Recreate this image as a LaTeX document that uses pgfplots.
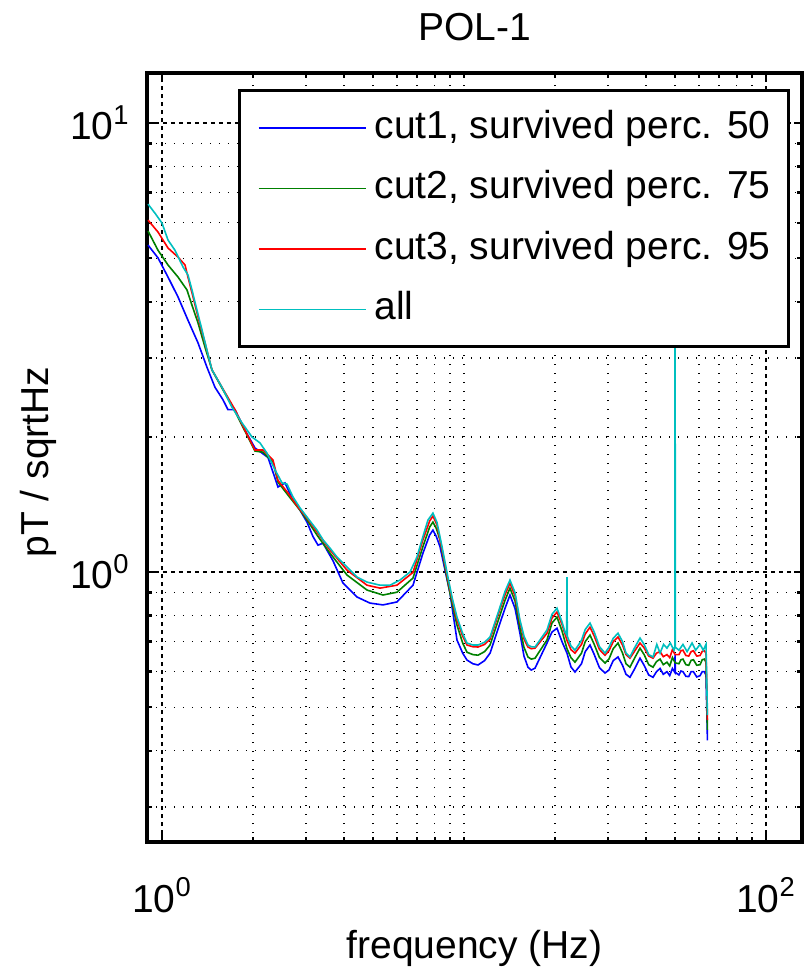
\documentclass[border=0pt]{standalone}
\usepackage{fontspec}
\setmainfont{Liberation Sans}
\usepackage{pgfplots}
\usepackage{pgfplotstable}
\pgfplotsset{compat=1.18}
\definecolor{mlblue}{rgb}{0,0,1}
\definecolor{mlgreen}{rgb}{0,0.5,0}
\definecolor{mlred}{rgb}{1,0,0}
\definecolor{mlcyan}{rgb}{0,0.75,0.75}
\newcommand{\bigfont}{\fontsize{19.5}{23}\selectfont}

% cut1, survived perc. 50
\pgfplotstableread{
f v
0.899 5.35
0.970 5.01
1.047 4.54
1.130 4.10
1.219 3.64
1.316 3.24
1.409 2.86
1.498 2.58
1.592 2.42
1.654 2.30
1.745 2.30
1.883 2.07
2.032 1.89
2.244 1.80
2.422 1.547
2.555 1.58
2.695 1.461
2.864 1.374
3.021 1.292
3.162 1.20
3.286 1.148
3.413 1.160
3.683 1.06
3.976 0.945
4.423 0.880
4.883 0.853
5.393 0.845
5.999 0.858
6.780 0.935
7.314 1.102
7.700 1.21
7.895 1.24
8.100 1.20
8.327 1.14
8.986 0.898
9.48 0.706
9.90 0.660
10.23 0.637
10.70 0.625
11.13 0.621
11.70 0.635
12.20 0.660
13.16 0.770
13.67 0.830
14.20 0.889
14.76 0.830
15.32 0.731
15.80 0.650
16.29 0.614
16.70 0.605
17.19 0.611
18.83 0.695
19.56 0.735
20.32 0.750
21.11 0.700
21.93 0.660
22.60 0.615
23.31 0.599
24.50 0.625
25.20 0.665
26.14 0.688
27.00 0.655
28.10 0.612
29.31 0.596
30.20 0.605
31.20 0.635
32.36 0.647
33.50 0.620
34.40 0.592
35.45 0.583
36.80 0.610
38.27 0.643
39.50 0.620
40.90 0.590
42.26 0.583
43.40 0.600
44.60 0.610
45.70 0.592
47.00 0.600
48.00 0.588
49.00 0.610
49.90 0.598
50.00 0.653
50.10 0.598
51.50 0.590
52.30 0.602
53.10 0.600
54.30 0.586
55.50 0.585
56.50 0.600
57.50 0.600
59.00 0.584
60.50 0.588
61.50 0.600
62.50 0.600
63.30 0.590
64.00 0.422
}\cutone

% cut2, survived perc. 75
\pgfplotstableread{
f v
0.899 5.75
0.970 5.21
1.047 4.83
1.130 4.54
1.210 4.25
1.257 3.93
1.316 3.59
1.388 3.17
1.464 2.82
1.580 2.57
1.745 2.28
1.883 2.06
2.032 1.86
2.160 1.85
2.331 1.758
2.422 1.586
2.614 1.484
2.864 1.374
3.021 1.306
3.261 1.209
3.600 1.102
4.099 0.985
4.773 0.912
5.393 0.889
5.999 0.902
6.780 0.970
7.314 1.14
7.700 1.26
7.895 1.292
8.100 1.25
8.327 1.18
8.784 0.970
9.126 0.853
9.48 0.762
9.90 0.695
10.23 0.663
10.70 0.655
11.13 0.653
11.70 0.665
12.20 0.688
13.16 0.802
13.67 0.865
14.20 0.921
14.76 0.862
15.32 0.750
15.80 0.680
16.29 0.647
16.70 0.640
17.19 0.643
18.83 0.706
19.56 0.770
20.32 0.794
21.11 0.740
21.93 0.675
22.60 0.645
23.31 0.630
24.50 0.660
25.20 0.700
26.14 0.724
27.00 0.690
28.10 0.645
29.31 0.627
30.20 0.640
31.20 0.675
32.36 0.695
33.50 0.660
34.40 0.625
35.45 0.614
36.80 0.645
38.27 0.677
39.50 0.655
40.90 0.622
42.26 0.614
43.40 0.632
44.60 0.640
45.70 0.622
47.00 0.630
48.00 0.618
49.00 0.645
50.00 0.628
51.50 0.625
52.30 0.638
53.10 0.640
54.30 0.622
55.50 0.620
56.50 0.636
57.50 0.638
59.00 0.620
60.50 0.622
61.50 0.638
62.50 0.640
63.30 0.630
64.00 0.445
}\cuttwo

% cut3, survived perc. 95
\pgfplotstableread{
f v
0.899 6.08
0.970 5.72
1.047 5.27
1.130 5.03
1.192 4.83
1.219 4.54
1.267 4.10
1.316 3.70
1.388 3.24
1.464 2.82
1.580 2.58
1.745 2.30
1.883 2.07
2.032 1.87
2.160 1.87
2.331 1.776
2.422 1.60
2.614 1.50
2.820 1.396
3.021 1.32
3.261 1.228
3.600 1.12
4.099 1.01
4.773 0.935
5.271 0.921
5.999 0.935
6.780 0.998
7.314 1.18
7.700 1.30
7.895 1.333
8.139 1.273
8.457 1.125
8.784 0.985
9.126 0.871
9.48 0.782
9.90 0.720
10.23 0.688
10.70 0.682
11.13 0.681
11.70 0.690
12.20 0.709
13.16 0.827
13.67 0.890
14.20 0.945
14.76 0.885
15.32 0.774
15.80 0.710
16.29 0.681
16.70 0.675
17.19 0.677
18.83 0.731
19.56 0.790
20.32 0.815
21.11 0.765
21.93 0.705
22.60 0.672
23.31 0.660
24.50 0.690
25.20 0.728
26.14 0.754
27.00 0.720
28.10 0.672
29.31 0.653
30.20 0.668
31.20 0.700
32.36 0.717
33.50 0.688
34.40 0.655
35.45 0.643
36.80 0.668
38.27 0.695
39.50 0.678
40.90 0.650
42.26 0.643
43.40 0.660
44.60 0.665
45.70 0.648
47.00 0.655
48.00 0.645
49.00 0.672
50.00 0.655
51.50 0.655
52.30 0.668
53.10 0.670
54.30 0.652
55.50 0.650
56.50 0.665
57.50 0.668
59.00 0.650
60.50 0.652
61.50 0.666
62.50 0.668
63.30 0.660
64.00 0.468
}\cutthree

% all
\pgfplotstableread{
f v
0.899 6.60
0.948 6.30
1.000 5.99
1.047 5.49
1.104 5.21
1.174 4.78
1.219 4.59
1.257 4.25
1.306 3.83
1.357 3.46
1.409 3.12
1.464 2.82
1.580 2.58
1.705 2.33
1.840 2.15
1.986 2.00
2.111 1.94
2.227 1.84
2.367 1.69
2.497 1.58
2.594 1.57
2.715 1.47
2.864 1.39
3.021 1.326
3.261 1.24
3.413 1.18
3.600 1.131
3.797 1.080
4.099 1.026
4.423 0.975
4.773 0.950
5.271 0.935
5.689 0.935
6.139 0.960
6.625 1.000
6.986 1.080
7.314 1.20
7.599 1.306
7.895 1.353
8.139 1.29
8.457 1.14
8.784 0.998
9.126 0.880
9.48 0.794
9.90 0.730
10.23 0.695
10.70 0.688
11.13 0.688
11.70 0.698
12.20 0.717
13.16 0.836
13.67 0.905
14.20 0.960
14.76 0.900
15.32 0.782
15.80 0.720
16.29 0.688
16.70 0.682
17.19 0.681
18.83 0.743
19.56 0.805
20.32 0.831
21.11 0.775
21.60 0.735
21.88 0.725
21.93 0.975
21.98 0.720
22.60 0.685
23.31 0.670
24.50 0.705
25.20 0.745
26.14 0.770
27.00 0.735
28.10 0.682
29.31 0.660
30.20 0.680
31.20 0.712
32.36 0.731
33.50 0.700
34.40 0.660
35.45 0.647
36.80 0.680
38.27 0.713
39.50 0.690
40.90 0.655
42.26 0.647
43.50 0.690
44.60 0.660
45.80 0.690
47.00 0.677
48.20 0.695
49.60 0.670
49.90 0.680
50.00 5.0
50.10 0.680
51.50 0.670
53.10 0.690
54.80 0.665
56.90 0.695
58.50 0.670
60.50 0.690
62.00 0.670
63.30 0.690
64.00 0.480
}\all

\begin{document}
\begin{tikzpicture}
\path[use as bounding box] (0,0) rectangle (403pt,485.5pt);
\begin{axis}[
  at={(73.5pt,64.5pt)}, anchor=south west,
  width=327.5pt, height=384.5pt, scale only axis,
  xmode=log, ymode=log,
  xmin=0.892, xmax=131.6, ymin=0.2505, ymax=12.93,
  xtick={1,100}, xticklabels={10\textsuperscript{0},10\textsuperscript{2}},
  ytick={1,10}, yticklabels={10\textsuperscript{0},10\textsuperscript{1}},
  minor xtick={2,3,4,5,6,7,8,9,10,20,30,40,50,60,70,80,90},
  minor ytick={0.3,0.4,0.5,0.6,0.7,0.8,0.9,2,3,4,5,6,7,8,9},
  grid=both,
  major grid style={black, line width=0.6pt, dash pattern=on 2pt off 2pt},
  minor grid style={black, line width=0.7pt, dash pattern=on 0.7pt off 3.8pt},
  tick align=inside, xtick pos=both, ytick pos=both,
  major tick length=4pt, minor tick length=2.5pt,
  every tick/.style={black, line width=1.2pt},
  axis line style={line width=1.8pt},
  ticklabel style={font=\bigfont, inner sep=0pt},
  xticklabel style={anchor=base, yshift=-35pt},
  yticklabel style={anchor=east, xshift=-8.5pt},
  title={POL-1},
  title style={at={(0.5,1)}, anchor=base, yshift=10pt, font=\bigfont},
  xlabel={frequency (Hz)},
  xlabel style={at={(axis description cs:0.5,0)}, anchor=base, yshift=-58pt, font=\bigfont},
  ylabel={pT / sqrtHz},
  ylabel style={at={(axis description cs:-0.1664,0.494)}, anchor=center, font=\bigfont},
  legend cell align=left,
  legend image code/.code={\draw[#1, line width=0.8pt] (0pt,0pt) -- (53.5pt,0pt);},
  legend style={at={(rel axis cs:0.9817,0.979)}, anchor=north east,
    draw=black, line width=1.5pt, fill=white, font=\bigfont,
    inner xsep=9pt, inner ysep=9.5pt, row sep=11.95pt, column sep=4pt,
    nodes={inner sep=0pt, text height=14.2pt, text depth=4.1pt}},
]
\addplot[mlblue, line width=0.8pt] table[x=f, y=v] {\cutone};
\addlegendentry{cut1, survived perc. 50}
\addplot[mlgreen, line width=0.8pt] table[x=f, y=v] {\cuttwo};
\addlegendentry{cut2, survived perc. 75}
\addplot[mlred, line width=0.8pt] table[x=f, y=v] {\cutthree};
\addlegendentry{cut3, survived perc. 95}
\addplot[mlcyan, line width=0.8pt] table[x=f, y=v] {\all};
\addlegendentry{all}
\end{axis}
\end{tikzpicture}
\end{document}
